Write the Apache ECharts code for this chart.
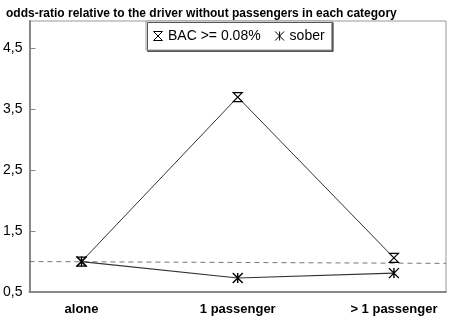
<!DOCTYPE html>
<html>
<head>
<meta charset="utf-8">
<script src="https://cdn.jsdelivr.net/npm/echarts@6/dist/echarts.min.js"></script>
<style>html,body{margin:0;padding:0;background:#fff}#c{width:450px;height:324px}</style>
</head>
<body>
<div id="c"></div>
<script>
const categories = ['alone', '1 passenger', '> 1 passenger'];
const bacValues = [1.0, 3.7, 1.06];
const soberValues = [1.0, 0.73, 0.81];
const refLine = [1.0, 0.97];
const yTicks = [0.5, 1.5, 2.5, 3.5, 4.5];
const xTicks = [0, 1, 2];

const FONT = 'Liberation Sans, Arial, sans-serif';
const hourglass = 'path://M0,0L10,0L0,10L10,10Z';
const asterisk = 'path://M0,0L10,10M10,0L0,10M5,0L5,10';

const chart = echarts.init(document.getElementById('c'));
chart.setOption({
  animation: false,
  backgroundColor: '#fff',
  title: {
    text: 'odds-ratio relative to the driver without passengers in each category',
    left: 1, top: 3,
    textStyle: { fontFamily: FONT, fontSize: 12, fontWeight: 'bold', color: '#000' }
  },
  legend: {
    data: [
      { name: 'BAC >= 0.08%', icon: hourglass, itemStyle: { color: '#fff', borderColor: '#000', borderWidth: 1 } },
      { name: 'sober', icon: asterisk, itemStyle: { color: '#000', borderColor: '#000', borderWidth: 1 } }
    ],
    left: 146, top: 21,
    orient: 'horizontal',
    padding: [8, 7, 7, 7],
    itemGap: 14,
    itemWidth: 10, itemHeight: 9,
    backgroundColor: '#fff',
    borderColor: '#999', borderWidth: 1,
    shadowColor: '#555', shadowOffsetX: 1.5, shadowOffsetY: 1.5, shadowBlur: 0,
    textStyle: { fontFamily: FONT, fontSize: 14, color: '#000' }
  },
  grid: {
    left: 29, right: 4, top: 21, bottom: 32,
    show: true, borderColor: '#999', borderWidth: 1, backgroundColor: 'transparent'
  },
  xAxis: {
    type: 'value', min: -1/3, max: 7/3,
    axisLine: { show: true, onZero: false, lineStyle: { color: '#888', width: 2 } },
    axisTick: { show: false },
    splitLine: { show: false },
    axisLabel: {
      customValues: xTicks,
      formatter: v => categories[Math.round(v)],
      fontFamily: FONT, fontSize: 13, fontWeight: 'bold', color: '#000', margin: 11
    }
  },
  yAxis: {
    type: 'value', min: 0.5, max: 4.95,
    axisLine: { show: true, onZero: false, lineStyle: { color: '#888', width: 2 } },
    axisTick: { show: true, inside: true, length: 6, customValues: yTicks, lineStyle: { color: '#888' } },
    splitLine: { show: false },
    axisLabel: {
      customValues: yTicks,
      formatter: v => String(v).replace('.', ','),
      fontFamily: FONT, fontSize: 14, color: '#000', margin: 7
    }
  },
  series: [
    {
      name: 'ref', type: 'line', silent: true, symbol: 'none',
      data: [[-1/3, refLine[0]], [7/3, refLine[1]]],
      lineStyle: { color: '#777', width: 1, type: [5, 4] },
      z: 1
    },
    {
      name: 'BAC >= 0.08%', type: 'line',
      data: bacValues.map((v, i) => [xTicks[i], v]),
      symbol: hourglass, symbolSize: [9, 9],
      itemStyle: { color: '#fff', borderColor: '#000', borderWidth: 1.2 },
      lineStyle: { color: '#333', width: 1 },
      z: 3
    },
    {
      name: 'sober', type: 'line',
      data: soberValues.map((v, i) => [xTicks[i], v]),
      symbol: asterisk, symbolSize: [10, 10],
      itemStyle: { color: '#000', borderColor: '#000', borderWidth: 1.4 },
      lineStyle: { color: '#333', width: 1.2 },
      z: 4
    }
  ]
});
</script>
</body>
</html>
